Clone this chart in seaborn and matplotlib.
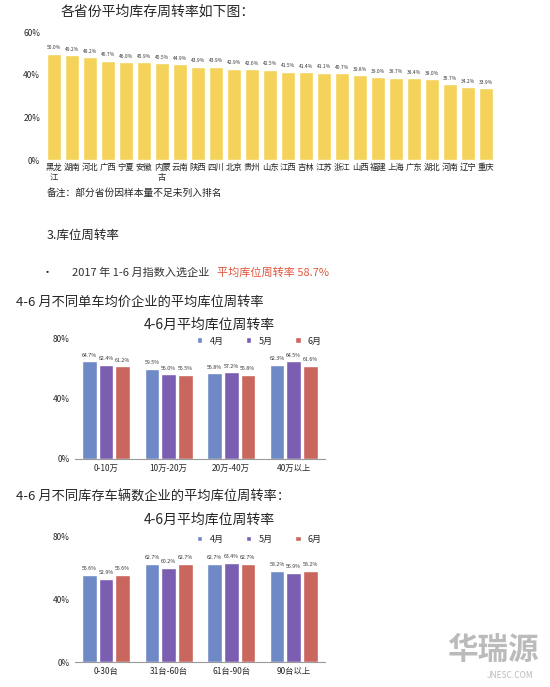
import matplotlib
matplotlib.use("Agg")
import matplotlib.pyplot as plt
import seaborn as sns
import pandas as pd

sns.set_style("white")
plt.rcParams['font.family'] = ['Noto Sans CJK SC', 'DejaVu Sans']

provinces = ["黑龙\n江","湖南","河北","广西","宁夏","安徽","内蒙\n古","云南","陕西","四川","北京","贵州","山东",
             "江西","吉林","江苏","浙江","山西","福建","上海","广东","湖北","河南","辽宁","重庆"]
prov_vals = [50.0,49.2,48.2,46.7,46.0,45.9,45.5,44.9,43.9,43.9,42.9,42.6,42.5,41.5,41.4,41.1,40.7,39.8,39.0,38.7,38.4,38.0,35.7,34.2,33.9]

months = ["4月","5月","6月"]
price_cats = ["0-10万","10万-20万","20万-40万","40万以上"]
price_vals = {"4月":[64.7,59.5,56.8,62.3],"5月":[62.4,56.0,57.2,64.5],"6月":[61.2,55.5,55.8,61.6]}
stock_cats = ["0-30台","31台-60台","61台-90台","90台以上"]
stock_vals = {"4月":[55.6,62.7,62.7,58.2],"5月":[52.9,60.2,63.4,56.9],"6月":[55.6,62.7,62.7,58.2]}
mcolors = ["#6F88C6","#7A5EB2","#C9665D"]

fig = plt.figure(figsize=(5.5,6.87), dpi=100)
fig.patch.set_facecolor("white")

fig.text(0.11, 0.993, "各省份平均库存周转率如下图：", fontsize=10, va="top")
ax1 = fig.add_axes([0.082,0.767,0.818,0.186])
df1 = pd.DataFrame({"p":provinces,"v":prov_vals})
sns.barplot(data=df1, x="p", y="v", color="#F5D35A", saturation=1, width=0.8, ax=ax1)
for i,v in enumerate(prov_vals):
    ax1.text(i, v+2, f"{v:.1f}%", ha="center", fontsize=3.5, color="#333")
ax1.set_ylim(0,60); ax1.set_yticks([0,20,40,60]); ax1.set_yticklabels(["0%","20%","40%","60%"], fontsize=6)
ax1.tick_params(axis="x", labelsize=6, length=0, pad=2)
ax1.set_xlabel(""); ax1.set_ylabel("")
sns.despine(ax=ax1, left=True, bottom=True)
ax1.tick_params(axis="y", length=0)
fig.text(0.085, 0.72, "备注：部分省份因样本量不足未列入排名", fontsize=7, va="center")
fig.text(0.085, 0.658, "3.库位周转率", fontsize=9, va="center")
fig.text(0.075, 0.603, "•", fontsize=8, va="center")
fig.text(0.13, 0.603, "2017 年 1-6 月指数入选企业", fontsize=8, va="center", color="#333")
fig.text(0.395, 0.603, "平均库位周转率 58.7%", fontsize=8, va="center", color="#E0553D")

def group_chart(rect, cats, vals, heading, hy, title, ty):
    fig.text(0.03, hy, heading, fontsize=9.5, va="center")
    fig.text(0.38, ty, title, fontsize=10, va="center", ha="center")
    ax = fig.add_axes(rect)
    rows = [(c,m,vals[m][i]) for m in months for i,c in enumerate(cats)]
    df = pd.DataFrame(rows, columns=["c","m","v"])
    sns.barplot(data=df, x="c", y="v", hue="m", palette=mcolors, saturation=1, width=0.8, gap=0.12, ax=ax)
    for ci, cont in enumerate(ax.containers):
        for bar, v in zip(cont, vals[months[ci]]):
            ax.text(bar.get_x()+bar.get_width()/2, v+3, f"{v:.1f}%", ha="center", fontsize=3.8, color="#333")
    ax.set_ylim(0,80); ax.set_yticks([0,40,80]); ax.set_yticklabels(["0%","40%","80%"], fontsize=6)
    ax.tick_params(axis="x", labelsize=6, length=0); ax.tick_params(axis="y", length=0)
    ax.set_xlabel(""); ax.set_ylabel("")
    ax.legend(loc="upper right", bbox_to_anchor=(1.02,1.08), ncol=3, frameon=False, fontsize=6.5,
              handlelength=0.6, handleheight=0.6, columnspacing=2.5)
    sns.despine(ax=ax, left=True)
    ax.spines["bottom"].set_color("#999")
    return ax

group_chart([0.136,0.332,0.455,0.176], price_cats, price_vals,
            "4-6 月不同单车均价企业的平均库位周转率", 0.56, "4-6月平均库位周转率", 0.527)
group_chart([0.136,0.036,0.455,0.183], stock_cats, stock_vals,
            "4-6 月不同库存车辆数企业的平均库位周转率：", 0.277, "4-6月平均库位周转率", 0.243)

fig.text(0.98, 0.03, "华瑞源", fontsize=22, ha="right", va="bottom", color="#bbbbbb", fontweight="bold")
fig.text(0.97, 0.01, "JNESC.COM", fontsize=6, ha="right", va="bottom", color="#bbbbbb")
fig.savefig("out.png", dpi=100, facecolor="white")
